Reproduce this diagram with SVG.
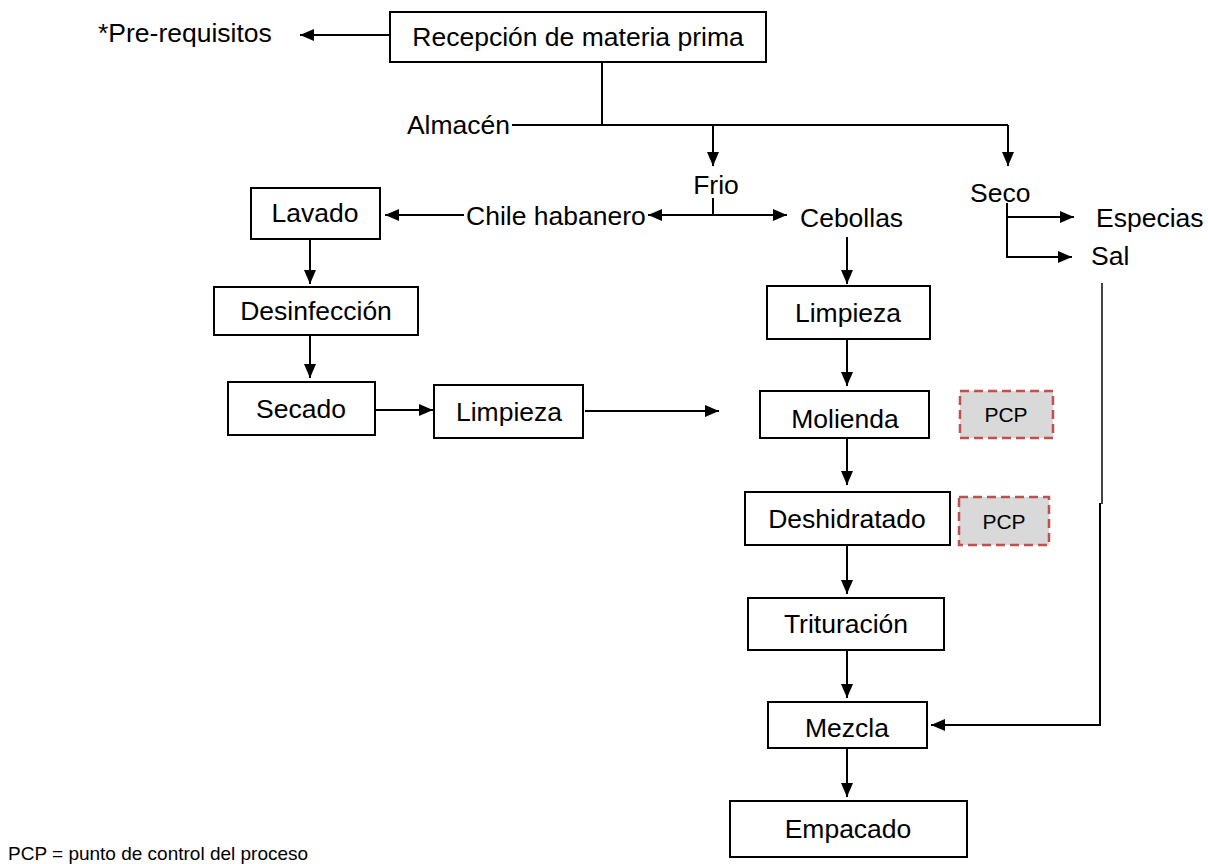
<svg xmlns="http://www.w3.org/2000/svg" width="1208" height="864" viewBox="0 0 1208 864">
<style>
text{font-family:"Liberation Sans",Arial,sans-serif;font-size:26.5px;fill:#000}
.c{text-anchor:middle}
.box{fill:#fff;stroke:#000;stroke-width:2}
.pcp{fill:#d9d9d9;stroke:#c0504d;stroke-width:2.5;stroke-dasharray:9,5}
.pt{font-size:21px}
.ln{fill:none;stroke:#000;stroke-width:2}
.gl{fill:none;stroke:#444;stroke-width:2}
</style>
<defs>
<marker id="ah" viewBox="0 0 14 12" refX="14" refY="6" markerWidth="14" markerHeight="12" markerUnits="userSpaceOnUse" orient="auto">
<path d="M0,0 L14,6 L0,12 Z" fill="#000"/>
</marker>
</defs>
<g id="connectors">
<line class="ln" x1="390" y1="35" x2="300" y2="35" marker-end="url(#ah)"/>
<line class="ln" x1="602" y1="62" x2="602" y2="125"/>
<line class="ln" x1="512" y1="125" x2="1008" y2="125"/>
<line class="ln" x1="713" y1="125" x2="713" y2="166" marker-end="url(#ah)"/>
<line class="ln" x1="1008" y1="125" x2="1008" y2="166" marker-end="url(#ah)"/>
<line class="ln" x1="713" y1="198" x2="713" y2="215"/>
<line class="ln" x1="713" y1="215" x2="648" y2="215" marker-end="url(#ah)"/>
<line class="ln" x1="713" y1="215" x2="787" y2="215" marker-end="url(#ah)"/>
<line class="ln" x1="464" y1="215" x2="385" y2="215" marker-end="url(#ah)"/>
<polyline class="ln" points="1007,203 1007,257 1072,257" marker-end="url(#ah)"/>
<line class="ln" x1="1007" y1="217" x2="1074" y2="217" marker-end="url(#ah)"/>
<line class="ln" x1="310" y1="240" x2="310" y2="284" marker-end="url(#ah)"/>
<line class="ln" x1="310" y1="336" x2="310" y2="378" marker-end="url(#ah)"/>
<line class="ln" x1="375" y1="410" x2="433" y2="410" marker-end="url(#ah)"/>
<line class="ln" x1="585" y1="411" x2="719" y2="411" marker-end="url(#ah)"/>
<line class="ln" x1="847" y1="237" x2="847" y2="284" marker-end="url(#ah)"/>
<line class="ln" x1="847" y1="339" x2="847" y2="386" marker-end="url(#ah)"/>
<line class="ln" x1="847" y1="438" x2="847" y2="485" marker-end="url(#ah)"/>
<line class="ln" x1="847" y1="545" x2="847" y2="594" marker-end="url(#ah)"/>
<line class="ln" x1="847" y1="650" x2="847" y2="698" marker-end="url(#ah)"/>
<line class="ln" x1="847" y1="748" x2="847" y2="797" marker-end="url(#ah)"/>
<line class="gl" x1="1102" y1="283" x2="1102" y2="504"/>
<polyline class="ln" points="1100,503 1100,725 931,725" marker-end="url(#ah)"/>
</g>
<g id="n-prereq"><text x="98" y="42">*Pre-requisitos</text></g>
<g id="n-recepcion"><rect class="box" x="390" y="12" width="376" height="50"/><text class="c" x="578" y="46">Recepción de materia prima</text></g>
<g id="n-almacen"><text x="510" y="134" text-anchor="end">Almacén</text></g>
<g id="n-frio"><text class="c" x="716" y="194">Frio</text></g>
<g id="n-seco"><text x="970" y="202">Seco</text></g>
<g id="n-especias"><text x="1096" y="227">Especias</text></g>
<g id="n-sal"><text x="1091" y="265">Sal</text></g>
<g id="n-chile"><text x="466" y="225">Chile habanero</text></g>
<g id="n-cebollas"><text x="800" y="227">Cebollas</text></g>
<g id="n-lavado"><rect class="box" x="251" y="188" width="129" height="51"/><text class="c" x="315" y="222">Lavado</text></g>
<g id="n-desinfeccion"><rect class="box" x="214" y="287" width="204" height="48"/><text class="c" x="316" y="320">Desinfección</text></g>
<g id="n-secado"><rect class="box" x="228" y="382" width="147" height="53"/><text class="c" x="301" y="418">Secado</text></g>
<g id="n-limpieza1"><rect class="box" x="434" y="385" width="149" height="53"/><text class="c" x="509" y="421">Limpieza</text></g>
<g id="n-limpieza2"><rect class="box" x="767" y="286" width="163" height="53"/><text class="c" x="848" y="322">Limpieza</text></g>
<g id="n-molienda"><rect class="box" x="760" y="391" width="169" height="47"/><text class="c" x="845" y="428">Molienda</text></g>
<g id="n-pcp1"><rect class="pcp" x="960" y="391" width="93" height="47"/><text class="c pt" x="1006" y="422">PCP</text></g>
<g id="n-deshidratado"><rect class="box" x="745" y="492" width="205" height="53"/><text class="c" x="847" y="528">Deshidratado</text></g>
<g id="n-pcp2"><rect class="pcp" x="959" y="497" width="90" height="48"/><text class="c pt" x="1004" y="529">PCP</text></g>
<g id="n-trituracion"><rect class="box" x="748" y="598" width="196" height="52"/><text class="c" x="846" y="633">Trituración</text></g>
<g id="n-mezcla"><rect class="box" x="768" y="702" width="159" height="46"/><text class="c" x="847" y="737">Mezcla</text></g>
<g id="n-empacado"><rect class="box" x="730" y="801" width="237" height="56"/><text class="c" x="848" y="838">Empacado</text></g>
<g id="legend"><text x="8" y="860" style="font-size:19px">PCP = punto de control del proceso</text></g>
</svg>
